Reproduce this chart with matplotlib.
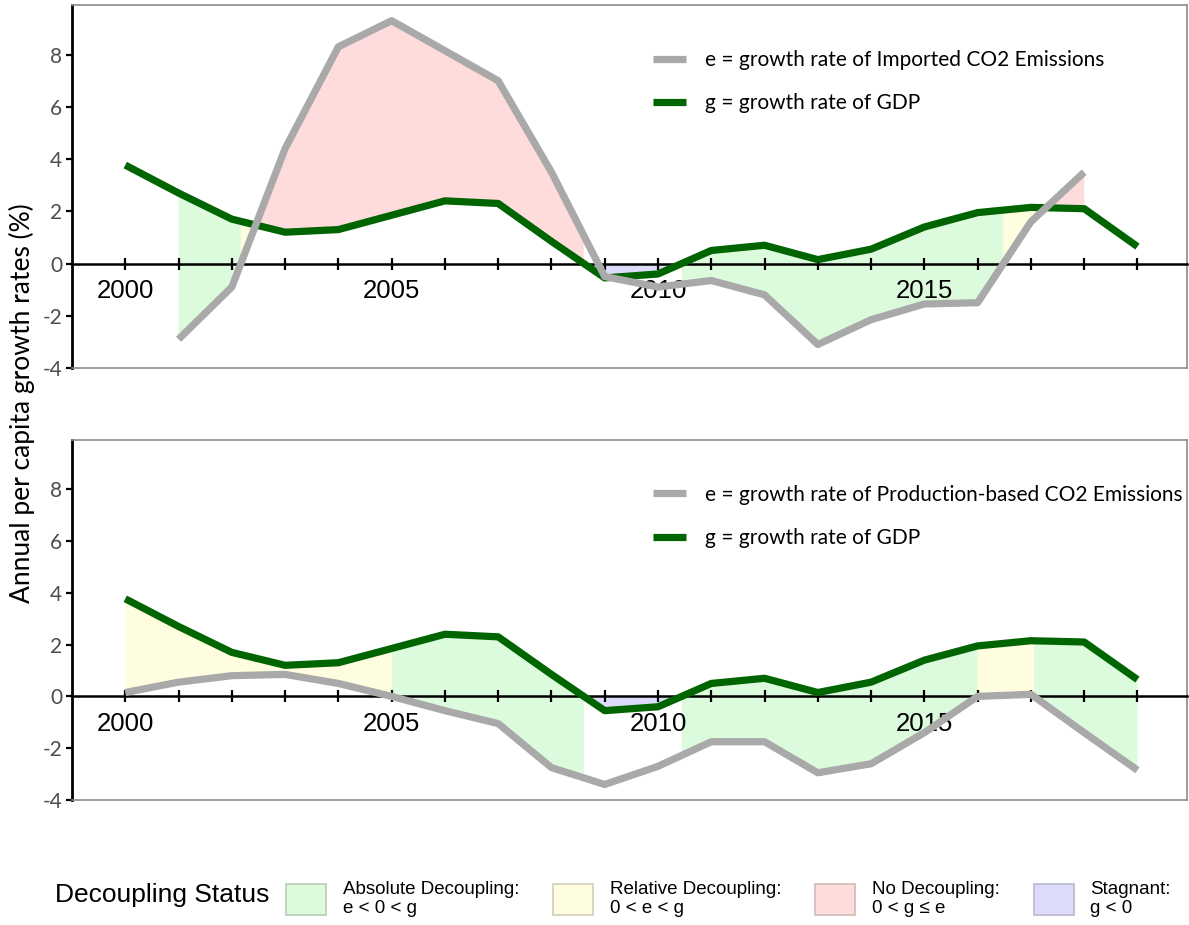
import numpy as np
import matplotlib
matplotlib.use('Agg')
import matplotlib.pyplot as plt
from matplotlib.patches import Patch
from matplotlib import font_manager

# ---------------- data ----------------
years = list(range(2000, 2020))
gdp = [3.77, 2.7, 1.7, 1.2, 1.3, 1.85, 2.4, 2.3, 0.85, -0.55,
       -0.4, 0.5, 0.7, 0.15, 0.55, 1.4, 1.95, 2.15, 2.1, 0.65]
imp_years = list(range(2001, 2019))
imported = [-2.9, -0.9, 4.4, 8.3, 9.3, 8.15, 7.0, 3.5, -0.5,
            -0.9, -0.65, -1.2, -3.1, -2.15, -1.55, -1.5, 1.6, 3.5]
production = [0.15, 0.55, 0.8, 0.85, 0.5, 0.0, -0.55, -1.05, -2.75, -3.4,
              -2.7, -1.75, -1.75, -2.95, -2.6, -1.4, 0.0, 0.08, -1.4, -2.85]
labeled_years = [2000, 2005, 2010, 2015]
y_ticks = [-4, -2, 0, 2, 4, 6, 8]
legend_e = ["e = growth rate of Imported CO2 Emissions",
            "e = growth rate of Production-based CO2 Emissions"]
legend_g = "g = growth rate of GDP"
status_names = ["Absolute Decoupling:\ne < 0 < g", "Relative Decoupling:\n0 < e < g",
                "No Decoupling:\n0 < g \u2264 e", "Stagnant:\ng < 0"]
status_colors = ["#dcfadc", "#fffde0", "#ffdcdc", "#dcdcfa"]
status_edges = ["#b5cdb5", "#d2d0b8", "#d2b8b8", "#b8b8d0"]

# ---------------- fonts ----------------
avail = {f.name for f in font_manager.fontManager.ttflist}
lato = "Lato" if "Lato" in avail else "DejaVu Sans"

GRAY = "#a9a9a9"
GREEN = "#006400"

fig = plt.figure(figsize=(11.89, 9.25), dpi=100)
W, H = 1189, 925


def add_panel(top_px, bottom_px, e_years, e_vals, e_label):
    ax = fig.add_axes([72 / W, 1 - bottom_px / H, (1187 - 72) / W, (bottom_px - top_px) / H])
    ax.set_xlim(1999.0, 2019.93)
    ax.set_ylim(-4, 9.9)

    # shading on a fine grid
    t = np.linspace(e_years[0], e_years[-1], 8001)
    gi = np.interp(t, years, gdp)
    ei = np.interp(t, e_years, e_vals)
    blue = gi < 0
    green = (~blue) & (ei < 0)
    yellow = (~blue) & (ei >= 0) & (ei < gi)
    pink = (~blue) & (ei >= 0) & (ei >= gi)
    ax.fill_between(t, ei, gi, where=green, color=status_colors[0], lw=0, zorder=1)
    ax.fill_between(t, ei, gi, where=yellow, color=status_colors[1], lw=0, zorder=1)
    ax.fill_between(t, ei, gi, where=pink, color=status_colors[2], lw=0, zorder=1)
    ax.fill_between(t, gi, 0, where=blue, color=status_colors[3], lw=0, zorder=1)

    lg, = ax.plot(years, gdp, color=GREEN, lw=5.2, solid_capstyle='butt',
                  solid_joinstyle='round', zorder=3)
    le, = ax.plot(e_years, e_vals, color=GRAY, lw=5.2, solid_capstyle='butt',
                  solid_joinstyle='round', zorder=4)

    # axes styling
    ax.spines['bottom'].set_position(('data', 0))
    ax.spines['bottom'].set_color('black')
    ax.spines['bottom'].set_linewidth(1.8)
    ax.spines['bottom'].set_zorder(2.5)
    ax.spines['left'].set_color('black')
    ax.spines['left'].set_linewidth(2.0)
    for s in ('top', 'right'):
        ax.spines[s].set_color('#8c8c8c')
        ax.spines[s].set_linewidth(1.2)
    ax.plot([0, 1], [0, 0], transform=ax.transAxes, color='#8c8c8c', lw=1.2,
            clip_on=False, zorder=5)

    ax.set_xticks(years)
    ax.set_xticklabels([str(y) if y in labeled_years else '' for y in years],
                       fontfamily='Liberation Sans', fontsize=18.5, color='black')
    ax.tick_params(axis='x', direction='inout', length=8, width=1.6, pad=7, color='black')
    ax.set_yticks(y_ticks)
    ax.set_yticklabels([str(v) for v in y_ticks], fontfamily=lato, fontsize=15, color='#4d4d4d')
    ax.tick_params(axis='y', direction='out', length=4, width=1.6, pad=3, color='black')

    leg = ax.legend([le, lg], [e_label, legend_g], loc='upper left',
                    bbox_to_anchor=(0.5215, 0.876), frameon=False,
                    prop={'family': lato, 'size': 15}, handlelength=1.55,
                    handletextpad=0.9, labelspacing=1.12, borderpad=0,
                    borderaxespad=0)
    for h in leg.legend_handles:
        h.set_linewidth(5.2)
    return ax


ax1 = add_panel(5, 368, imp_years, imported, legend_e[0])
ax2 = add_panel(440, 800, years, production, legend_e[1])

fig.text(0.0185, 1 - 403 / H, "Annual per capita growth rates (%)", rotation=90,
         ha='center', va='center', fontfamily=lato, fontsize=19, color='black')

# bottom legend
fig.text(55 / W, 1 - 895 / H, "Decoupling Status", ha='left', va='center',
         fontfamily='Liberation Sans', fontsize=19, color='black')
handles = [Patch(facecolor=c, edgecolor=ec, linewidth=1.2)
           for c, ec in zip(status_colors, status_edges)]
fig.legend(handles, status_names, loc='center left',
           bbox_to_anchor=(286 / W, 1 - 899 / H), ncol=4, frameon=False,
           prop={'family': 'Liberation Sans', 'size': 13.5}, handlelength=2.13,
           handleheight=2.2, handletextpad=0.9, columnspacing=1.8, borderpad=0,
           borderaxespad=0, labelspacing=0.2)

fig.savefig('out.png', dpi=100)
